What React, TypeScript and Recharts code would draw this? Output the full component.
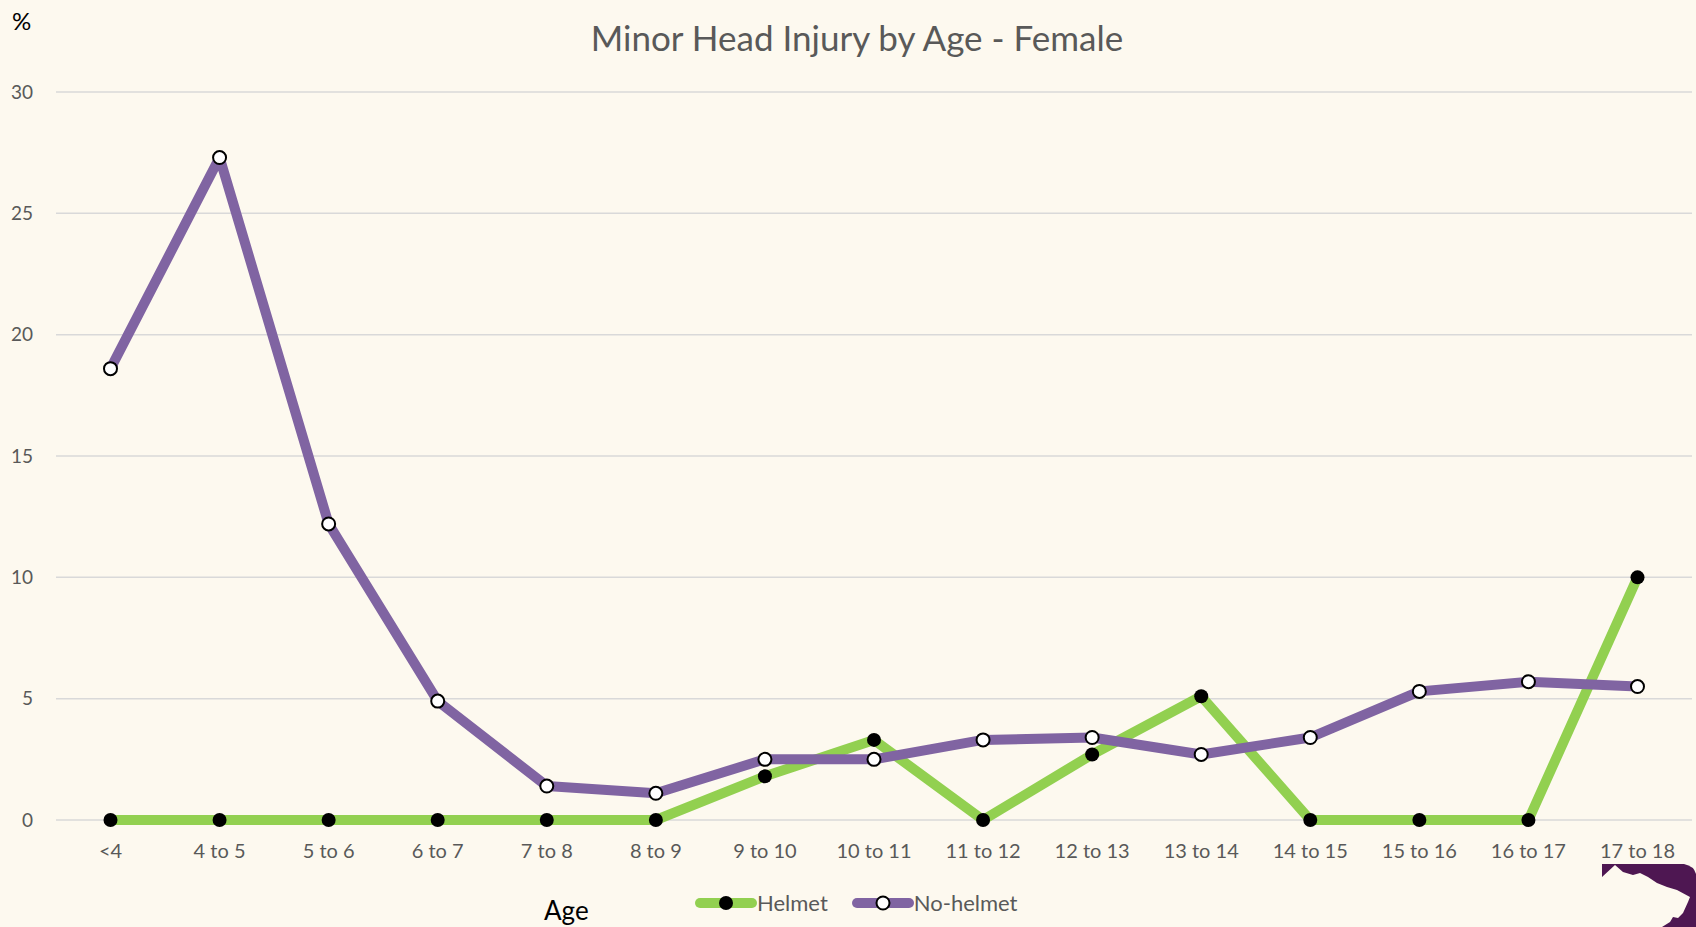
import React from 'react';
import { LineChart, Line, XAxis, YAxis, CartesianGrid, Legend } from 'recharts';

const ageGroups = ['<4', '4 to 5', '5 to 6', '6 to 7', '7 to 8', '8 to 9', '9 to 10', '10 to 11', '11 to 12', '12 to 13', '13 to 14', '14 to 15', '15 to 16', '16 to 17', '17 to 18'];
const helmet = [0, 0, 0, 0, 0, 0, 1.8, 3.3, 0, 2.7, 5.1, 0, 0, 0, 10];
const noHelmet = [18.6, 27.3, 12.2, 4.9, 1.4, 1.1, 2.5, 2.5, 3.3, 3.4, 2.7, 3.4, 5.3, 5.7, 5.5];
const yTicks = [0, 5, 10, 15, 20, 25, 30];

const data = ageGroups.map((age, i) => ({ age, helmet: helmet[i], noHelmet: noHelmet[i] }));

const COLORS = {
  bg: '#fdf9ef',
  helmet: '#92d050',
  noHelmet: '#8064a2',
  grid: '#d9d9d9',
  text: '#595959',
};

const FONT = 'Lato, "Open Sans", sans-serif';

// half of one category slot, so points sit in the middle of their slot
const HALF_SLOT = 54.5;

const XTick = (props: any) => (
  <text x={props.x} y={props.y + 30} textAnchor="middle" fill={COLORS.text} fontSize={20} fontFamily={FONT}>
    {props.payload.value}
  </text>
);

const YTick = (props: any) => (
  <text x={33} y={props.y} dy="0.35em" textAnchor="end" fill={COLORS.text} fontSize={19} fontFamily={FONT}>
    {props.payload.value}
  </text>
);

const HelmetDot = (props: any) => <circle cx={props.cx} cy={props.cy} r={7} fill="#000" />;
const NoHelmetDot = (props: any) => (
  <circle cx={props.cx} cy={props.cy} r={6.5} fill="#fff" stroke="#000" strokeWidth={2} />
);

const LegendContent = (props: any) => (
  <div style={{ display: 'flex', alignItems: 'center', fontFamily: FONT, fontSize: 22, color: COLORS.text }}>
    {(props.payload || []).map((item: any) => {
      const hollow = item.dataKey === 'noHelmet';
      return (
        <div key={item.value} style={{ display: 'flex', alignItems: 'center', marginRight: 24 }}>
          <svg width={62} height={26}>
            <line x1={5} y1={13} x2={57} y2={13} stroke={item.color} strokeWidth={10} strokeLinecap="round" />
            {hollow ? (
              <circle cx={31} cy={13} r={6.5} fill="#fff" stroke="#000" strokeWidth={2} />
            ) : (
              <circle cx={31} cy={13} r={7} fill="#000" />
            )}
          </svg>
          <span>{item.value}</span>
        </div>
      );
    })}
  </div>
);

export default function App() {
  return (
    <div style={{ position: 'absolute', left: 0, top: 0, width: 1696, height: 927, background: COLORS.bg, overflow: 'hidden' }}>
      <div style={{ position: 'absolute', left: 9, width: 1696, top: 16, textAlign: 'center', fontFamily: FONT, fontSize: 35, color: COLORS.text }}>
        Minor Head Injury by Age - Female
      </div>
      <div style={{ position: 'absolute', left: 12, top: 6, fontFamily: FONT, fontSize: 24, color: '#000' }}>%</div>
      <div style={{ position: 'absolute', left: 544, top: 894, fontFamily: FONT, fontSize: 26, color: '#000' }}>Age</div>
      <LineChart width={1696} height={927} data={data} margin={{ top: 92, right: 4, bottom: 77, left: 0 }}>
        <CartesianGrid vertical={false} stroke={COLORS.grid} strokeWidth={1.5} />
        <XAxis
          dataKey="age"
          height={30}
          tickLine={false}
          axisLine={false}
          tick={<XTick />}
          interval={0}
          padding={{ left: HALF_SLOT, right: HALF_SLOT }}
        />
        <YAxis width={56} domain={[0, 30]} ticks={yTicks} tickLine={false} axisLine={false} tick={<YTick />} />
        <Legend
          verticalAlign="middle"
          align="center"
          content={<LegendContent />}
          wrapperStyle={{ position: 'absolute', left: 695, top: 889, width: 'auto' }}
        />
        <Line
          type="linear"
          dataKey="helmet"
          name="Helmet"
          stroke={COLORS.helmet}
          strokeWidth={10}
          strokeLinejoin="round"
          dot={<HelmetDot />}
          activeDot={false}
          isAnimationActive={false}
        />
        <Line
          type="linear"
          dataKey="noHelmet"
          name="No-helmet"
          stroke={COLORS.noHelmet}
          strokeWidth={10}
          strokeLinejoin="round"
          dot={<NoHelmetDot />}
          activeDot={false}
          isAnimationActive={false}
        />
      </LineChart>
      <svg style={{ position: 'absolute', left: 1596, top: 860 }} width={100} height={67}>
        <path d="M6 4 L88 4 Q98 6 100 14 L100 67 L6 67 Z" fill="#4e1752" />
        <path d="M6 17 L19 5 L27 12 L37 15 L44 13 L52 17 L61 23 L71 27 L81 30 L94 37 L92 42 L87 53 L82 58 L77 57 L74 62 L66 67 L6 67 Z" fill={COLORS.bg} />
      </svg>
    </div>
  );
}
